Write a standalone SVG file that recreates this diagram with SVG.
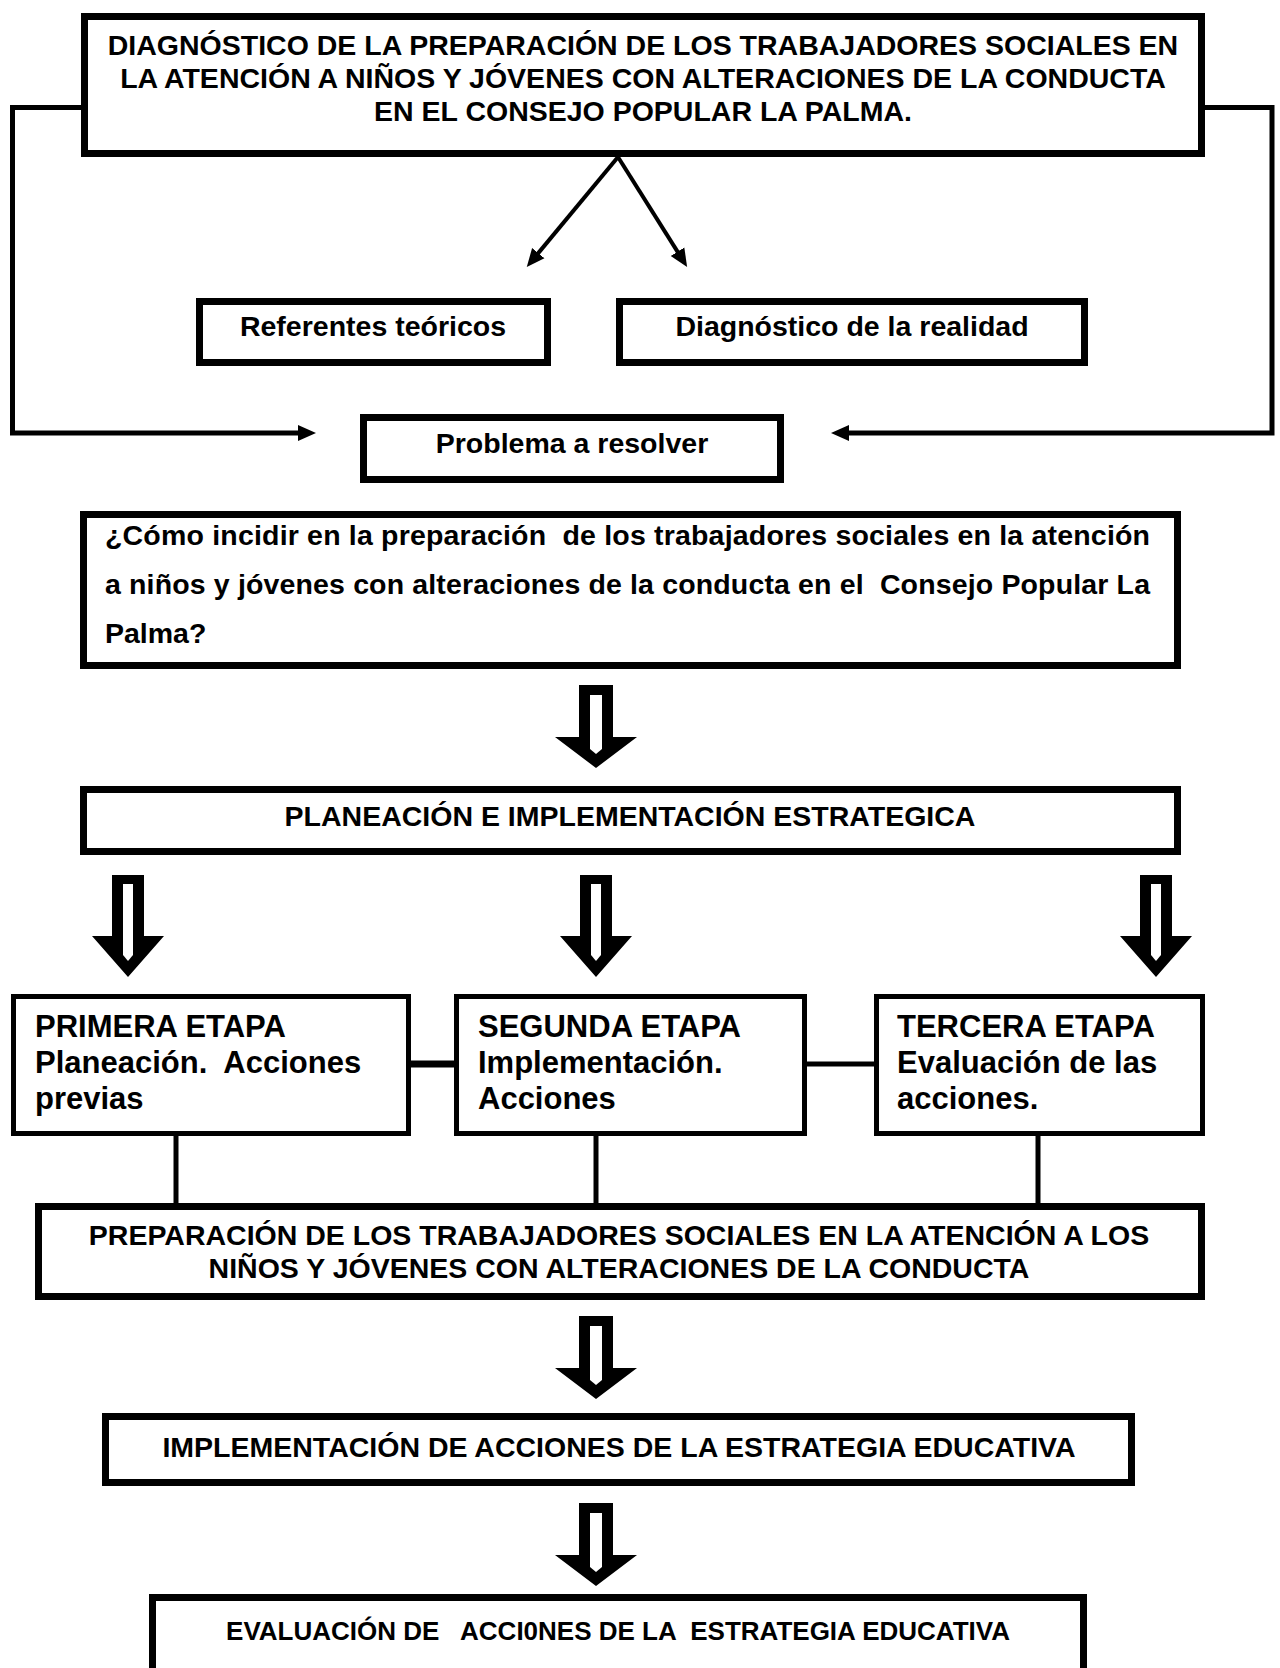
<svg xmlns="http://www.w3.org/2000/svg" xmlns:xlink="http://www.w3.org/1999/xlink" width="1280" height="1668" viewBox="0 0 1280 1668">
<style>
.box{fill:#fff;stroke:#000;stroke-width:7}
.sbox{fill:#fff;stroke:#000;stroke-width:5}
.t{font-family:"Liberation Sans",Arial,sans-serif;font-weight:bold;font-size:28.5px;fill:#000}
.c{text-anchor:middle}
.s{font-size:31px}
.e{font-size:26px;white-space:pre}
.ln{fill:none;stroke:#000;stroke-width:5}
.dg{fill:none;stroke:#000;stroke-width:4}
</style>
<defs>
<marker id="ah" markerUnits="userSpaceOnUse" markerWidth="20" markerHeight="18" refX="2" refY="8" orient="auto" viewBox="0 0 20 16">
<path d="M0,0 L18,8 L0,16 z" fill="#000"/>
</marker>
<g id="bigA">
<polygon points="-17,0 17,0 17,52 41,52 0,83 -41,52 -17,52" fill="#000"/>
<polygon points="-6,10 6,10 6,64 0,69 -6,64" fill="#fff"/>
</g>
<g id="bigB">
<polygon points="-16,0 16,0 16,61 36,61 0,102 -36,61 -16,61" fill="#000"/>
<polygon points="-5,9 5,9 5,80 0,86 -5,80" fill="#fff"/>
</g>
</defs>
<rect width="1280" height="1668" fill="#fff"/>

<g id="connectors">
<polyline class="ln" points="84,107.5 12.5,107.5 12.5,433 300,433" marker-end="url(#ah)"/>
<polyline class="ln" points="1202,107.5 1272,107.5 1272,433 847,433" marker-end="url(#ah)"/>
<line class="dg" x1="618" y1="157" x2="537" y2="254.6" marker-end="url(#ah)"/>
<line class="dg" x1="618" y1="157" x2="678.6" y2="253.4" marker-end="url(#ah)"/>
<use xlink:href="#bigA" transform="translate(596,685)"/>
<use xlink:href="#bigB" transform="translate(128,875)"/>
<use xlink:href="#bigB" transform="translate(596,875)"/>
<use xlink:href="#bigB" transform="translate(1156,875)"/>
<line x1="411" y1="1064" x2="454" y2="1064" stroke="#000" stroke-width="7"/>
<line x1="807" y1="1064" x2="874" y2="1064" stroke="#000" stroke-width="5"/>
<line class="ln" x1="176" y1="1136" x2="176" y2="1203"/>
<line class="ln" x1="596" y1="1136" x2="596" y2="1203"/>
<line class="ln" x1="1038" y1="1136" x2="1038" y2="1203"/>
<use xlink:href="#bigA" transform="translate(596,1316)"/>
<use xlink:href="#bigA" transform="translate(596,1503)"/>
</g>

<g id="diagnostico">
<rect class="box" x="84.5" y="16.5" width="1117" height="137"/>
<text class="t c" x="643" y="55">DIAGNÓSTICO DE LA PREPARACIÓN DE LOS TRABAJADORES SOCIALES EN</text>
<text class="t c" x="643" y="88">LA ATENCIÓN A NIÑOS Y JÓVENES CON ALTERACIONES DE LA CONDUCTA</text>
<text class="t c" x="643" y="121">EN EL CONSEJO POPULAR LA PALMA.</text>
</g>

<g id="referentes">
<rect class="box" x="199.5" y="301.5" width="348" height="61"/>
<text class="t c" x="373" y="336">Referentes teóricos</text>
</g>

<g id="realidad">
<rect class="box" x="619.5" y="301.5" width="465" height="61"/>
<text class="t c" x="852" y="336">Diagnóstico de la realidad</text>
</g>

<g id="problema">
<rect class="box" x="363.5" y="417.5" width="417" height="62"/>
<text class="t c" x="572" y="453">Problema a resolver</text>
</g>

<g id="pregunta">
<rect class="box" x="83.5" y="514.5" width="1094" height="151"/>
<text class="t" x="105" y="545" textLength="1045" lengthAdjust="spacing" style="white-space:pre">¿Cómo incidir en la preparación  de los trabajadores sociales en la atención</text>
<text class="t" x="105" y="594" textLength="1045" lengthAdjust="spacing" style="white-space:pre">a niños y jóvenes con alteraciones de la conducta en el  Consejo Popular La</text>
<text class="t" x="105" y="643">Palma?</text>
</g>

<g id="planeacion">
<rect class="box" x="83.5" y="789.5" width="1094" height="62"/>
<text class="t c" x="630" y="826">PLANEACIÓN E IMPLEMENTACIÓN ESTRATEGICA</text>
</g>

<g id="primera">
<rect class="sbox" x="13.5" y="996.5" width="395" height="137"/>
<text class="t s" x="35" y="1037">PRIMERA ETAPA</text>
<text class="t s" x="35" y="1073" style="white-space:pre">Planeación.  Acciones</text>
<text class="t s" x="35" y="1109">previas</text>
</g>

<g id="segunda">
<rect class="sbox" x="456.5" y="996.5" width="348" height="137"/>
<text class="t s" x="478" y="1037">SEGUNDA ETAPA</text>
<text class="t s" x="478" y="1073">Implementación.</text>
<text class="t s" x="478" y="1109">Acciones</text>
</g>

<g id="tercera">
<rect class="sbox" x="876.5" y="996.5" width="326" height="137"/>
<text class="t s" x="897" y="1037">TERCERA ETAPA</text>
<text class="t s" x="897" y="1073">Evaluación de las</text>
<text class="t s" x="897" y="1109">acciones.</text>
</g>

<g id="preparacion">
<rect class="box" x="38.5" y="1206.5" width="1163" height="90"/>
<text class="t c" x="619" y="1245">PREPARACIÓN DE LOS TRABAJADORES SOCIALES EN LA ATENCIÓN A LOS</text>
<text class="t c" x="619" y="1278">NIÑOS Y JÓVENES CON ALTERACIONES DE LA CONDUCTA</text>
</g>

<g id="implementacion">
<rect class="box" x="105.5" y="1416.5" width="1026" height="66"/>
<text class="t c" x="619" y="1457">IMPLEMENTACIÓN DE ACCIONES DE LA ESTRATEGIA EDUCATIVA</text>
</g>

<g id="evaluacion">
<path class="box" d="M152.5,1672 V1597.5 H1083.5 V1672"/>
<text class="t e c" x="618" y="1640">EVALUACIÓN DE   ACCI0NES DE LA  ESTRATEGIA EDUCATIVA</text>
</g>
</svg>
